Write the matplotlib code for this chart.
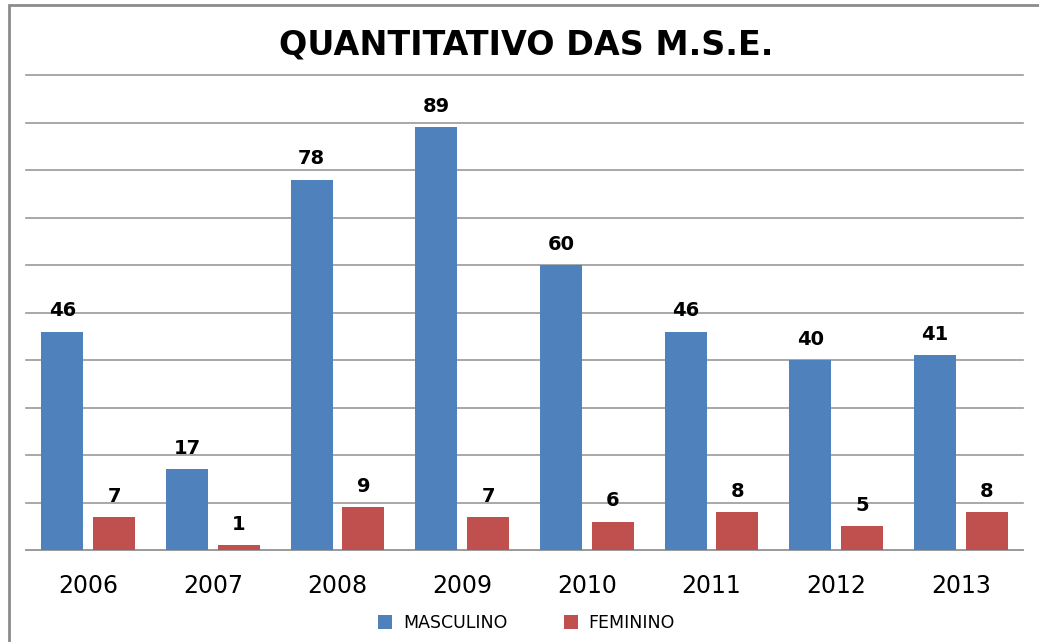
import matplotlib.pyplot as plt
import numpy as np
from matplotlib.patches import Rectangle

years = ["2006", "2007", "2008", "2009", "2010", "2011", "2012", "2013"]
masculino = [46, 17, 78, 89, 60, 46, 40, 41]
feminino = [7, 1, 9, 7, 6, 8, 5, 8]

blue = "#4f81bd"
red = "#c0504d"

fig = plt.figure(figsize=(10.39, 6.42), dpi=100)
# outer chart frame
fig.patches.append(Rectangle((9 / 1039, -0.05), 1.1, 1 - 5 / 642 + 0.05,
                             transform=fig.transFigure, fill=False,
                             edgecolor="#8c8c8c", linewidth=2))

ax = fig.add_axes([26 / 1039, 1 - 550 / 642, 997 / 1039, 475 / 642])

x = np.arange(len(years))
w = 0.337
off = 0.208
b1 = ax.bar(x - off, masculino, w, color=blue, label="MASCULINO", zorder=3)
b2 = ax.bar(x + off, feminino, w, color=red, label="FEMININO", zorder=3)

for bars, vals in [(b1, masculino), (b2, feminino)]:
    for r, v in zip(bars, vals):
        ax.annotate(str(v), (r.get_x() + r.get_width() / 2, v),
                    xytext=(0, 8), textcoords="offset points",
                    ha="center", va="bottom", fontsize=14, fontweight="bold")

ax.set_xlim(-0.5, len(years) - 0.5)
ax.set_ylim(0, 100)
ax.set_yticks(np.arange(0, 101, 10))
ax.yaxis.grid(True, color="#9a9a9a", linewidth=1.2, zorder=0)
for gl in ax.get_ygridlines():
    gl.set_clip_on(False)
ax.set_yticklabels([])
ax.tick_params(axis="y", length=0)
ax.set_xticks(x)
ax.set_xticklabels(years, fontsize=17)
ax.tick_params(axis="x", length=0, pad=17)
for s in ["top", "right", "left"]:
    ax.spines[s].set_visible(False)
ax.spines["bottom"].set_color("#9a9a9a")
ax.spines["bottom"].set_linewidth(1.2)

fig.text(0.506, 1 - 45 / 642, "QUANTITATIVO DAS M.S.E.", ha="center", va="center",
         fontsize=24, fontweight="bold")

fig.legend(handles=[b1, b2], loc="center", bbox_to_anchor=(0.507, 1 - 623 / 642),
           ncol=2, frameon=False, fontsize=12.5, handlelength=0.8, handleheight=0.8,
           columnspacing=3.3, handletextpad=0.6)

plt.savefig("out.png", dpi=100)
